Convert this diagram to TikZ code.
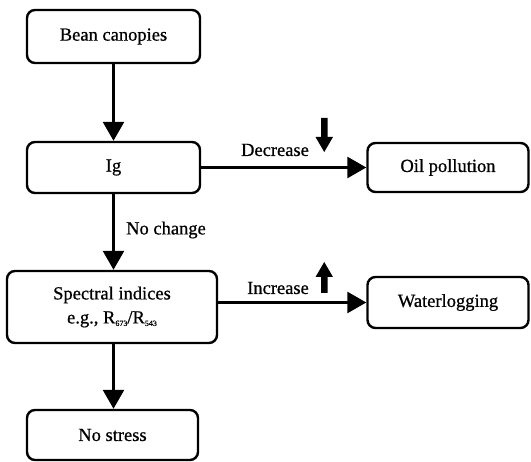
\documentclass[tikz,border=0pt]{standalone}
\usepackage{fontspec}
\setmainfont{Liberation Serif}[FakeBold=0.7]
\usetikzlibrary{arrows.meta}
\tikzset{
  box/.style={draw=black, line width=2.4pt, rounded corners=8pt, rectangle, align=center,
    inner sep=0pt, font=\fontsize{18.5}{24}\selectfont},
  flow/.style={line width=2.6pt, -{Triangle[length=19pt,width=21pt]}},
  lbl/.style={font=\fontsize{18.5}{22}\selectfont, inner sep=0pt},
  bigarrow/.style={fill=black, draw=none}
}
\newcommand{\subsm}[1]{\raisebox{-2.5pt}{\fontsize{8}{8}\selectfont #1}}
\begin{document}
\begin{tikzpicture}[x=1pt,y=-1pt]
\useasboundingbox (0,0) rectangle (531,462);
\node[box, minimum width=173pt, minimum height=53pt] (bean) at (113.5,36.5) {Bean canopies};
\node[box, minimum width=173pt, minimum height=51pt] (ig) at (113.5,167.5) {Ig};
\node[box, minimum width=161pt, minimum height=49pt] (oil) at (448,167.5) {Oil pollution};
\node[box, minimum width=210pt, minimum height=72pt] (spec) at (112,307) {Spectral indices\\e.g., R\subsm{673}/R\subsm{543}};
\node[box, minimum width=161pt, minimum height=51pt] (water) at (448,302.5) {Waterlogging};
\node[box, minimum width=171pt, minimum height=50pt] (nostress) at (112.5,435) {No stress};

\draw[flow] (bean.south) -- (ig.north);
\draw[flow] (ig.south) -- (ig.south |- spec.north);
\draw[flow] (ig.south |- spec.south) -- (ig.south |- nostress.north);
\draw[flow] (ig.east) -- (oil.west);
\draw[flow] (spec.east |- water.west) -- (water.west);

\node[lbl] (nochange) at (166,230) {No change};
\node[lbl] (decrease) at (275,150) {Decrease};
\node[lbl] (increase) at (278,288) {Increase};

% thick down arrow
\fill[bigarrow] (321,118) -- (327.5,118) -- (327.5,137) -- (333,137) -- (324.25,152) -- (315.5,137) -- (321,137) -- cycle;
% thick up arrow
\fill[bigarrow] (321,293) -- (327.5,293) -- (327.5,277) -- (333,277) -- (324.25,262) -- (315.5,277) -- (321,277) -- cycle;
\end{tikzpicture}
\end{document}
